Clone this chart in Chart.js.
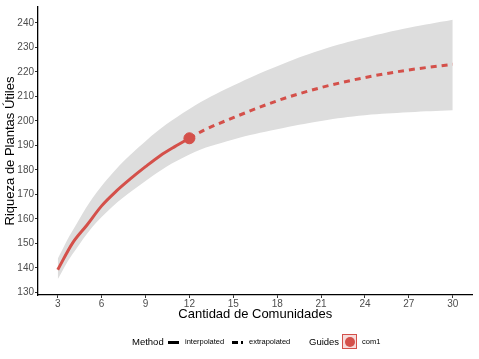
<!DOCTYPE html>
<html>
<head>
<meta charset="utf-8">
<script src="https://cdn.jsdelivr.net/npm/chart.js@4.4.1/dist/chart.umd.min.js"></script>
<style>
  html,body{margin:0;padding:0;background:#fff;}
  #wrap{position:relative;width:479px;height:359px;overflow:hidden;font-family:"Liberation Sans",Arial,sans-serif;}
  #c{position:absolute;left:0;top:0;}
  .lg{position:absolute;white-space:nowrap;color:#000;line-height:1;}
  .t10{font-size:9.5px;top:337px;}
  .t7{font-size:7.5px;top:338px;}
  .seg{position:absolute;height:3px;background:#000;top:341px;}
  #box{position:absolute;left:342px;top:334px;width:13px;height:13px;border:1px solid #d4504a;background:#f6dcdb;}
  #dot{position:absolute;left:344.5px;top:336.5px;width:10px;height:10px;border-radius:50%;background:#d4504a;}
</style>
</head>
<body>
<div id="wrap">
  <canvas id="c" width="479" height="359"></canvas>
  <div class="lg t10" style="left:132px">Method</div>
  <div class="seg" style="left:168px;width:11px"></div>
  <div class="lg t7" style="left:185px">interpolated</div>
  <div class="seg" style="left:232px;width:6px"></div>
  <div class="seg" style="left:241px;width:2px"></div>
  <div class="lg t7" style="left:249px">extrapolated</div>
  <div class="lg t10" style="left:309px">Guides</div>
  <div id="box"></div>
  <div id="dot"></div>
  <div class="lg t7" style="left:362px">com1</div>
</div>
<script>
// ---- data ----
const interpX = [3, 4, 5, 6, 7, 8, 9, 10, 11, 12];
const interpY = [139.2, 150.0, 157.5, 165.3, 171.3, 176.5, 181.3, 185.8, 189.5, 192.9];
const extrapX = [12, 13, 15, 18, 21, 24, 27, 30];
const extrapY = [192.9, 196.2, 201.3, 208.2, 213.6, 217.7, 220.8, 223.1];
const bandX = [3, 4, 6, 9, 12, 15, 18, 21, 24, 27, 30];
const bandUpper = [143.7, 155.0, 173.4, 191.7, 204.8, 214.4, 222.3, 228.9, 233.9, 238.0, 241.3];
const bandLower = [135.3, 145.5, 160.8, 175.5, 186.3, 192.4, 196.6, 200.0, 202.3, 203.5, 204.3];
const observedX = [12];
const observedY = [192.9];
const xTicks = [3, 6, 9, 12, 15, 18, 21, 24, 27, 30];
const yTicks = [130, 140, 150, 160, 170, 180, 190, 200, 210, 220, 230, 240];

const RED = '#d4504a';
const pts = (xs, ys) => xs.map((x, i) => ({x: x, y: ys[i]}));

new Chart(document.getElementById('c'), {
  type: 'line',
  data: {
    datasets: [
      {label: 'observed', data: pts(observedX, observedY), showLine: false,
       pointRadius: 5.5, pointBackgroundColor: RED, pointBorderColor: RED, order: 0},
      {label: 'interpolated', data: pts(interpX, interpY), borderColor: RED, borderWidth: 3,
       pointRadius: 0, cubicInterpolationMode: 'monotone', fill: false, order: 1},
      {label: 'extrapolated', data: pts(extrapX, extrapY), borderColor: RED, borderWidth: 3,
       borderDash: [6, 5], borderDashOffset: 0, pointRadius: 0, cubicInterpolationMode: 'monotone', fill: false, order: 1},
      {label: 'upper', data: pts(bandX, bandUpper), borderWidth: 0, borderColor: 'rgba(0,0,0,0)',
       backgroundColor: '#dddddd', pointRadius: 0, tension: 0.4, fill: '+1', order: 5},
      {label: 'lower', data: pts(bandX, bandLower), borderWidth: 0, borderColor: 'rgba(0,0,0,0)',
       pointRadius: 0, tension: 0.4, fill: false, order: 5}
    ]
  },
  options: {
    responsive: false,
    animation: false,
    devicePixelRatio: 1,
    layout: {padding: {left: 0, right: 6, top: 5, bottom: 37}},
    plugins: {legend: {display: false}, tooltip: {enabled: false}},
    scales: {
      x: {
        type: 'linear', min: 1.65, max: 31.35,
        afterBuildTicks: s => { s.ticks = xTicks.map(v => ({value: v})); },
        afterFit: s => { s.height = 27; },
        border: {display: true, color: '#000', width: 1.3},
        grid: {display: true, drawOnChartArea: false, drawTicks: true, tickLength: 3, color: '#333'},
        ticks: {color: '#4d4d4d', font: {family: 'Liberation Sans', size: 10}, padding: 0, maxRotation: 0, autoSkip: false},
        title: {display: true, text: 'Cantidad de Comunidades', color: '#000',
                font: {family: 'Liberation Sans', size: 13}, padding: {top: 0, bottom: 0}}
      },
      y: {
        type: 'linear', min: 128.9, max: 246.5,
        afterBuildTicks: s => { s.ticks = yTicks.map(v => ({value: v})); },
        afterFit: s => { s.width = 38; },
        border: {display: true, color: '#000', width: 1.3},
        grid: {display: true, drawOnChartArea: false, drawTicks: true, tickLength: 3, color: '#333'},
        ticks: {color: '#4d4d4d', font: {family: 'Liberation Sans', size: 10}, padding: 1, autoSkip: false},
        title: {display: true, text: 'Riqueza de Plantas Útiles', color: '#000',
                font: {family: 'Liberation Sans', size: 13}, padding: {top: 3, bottom: 0}}
      }
    }
  }
});
</script>
</body>
</html>
